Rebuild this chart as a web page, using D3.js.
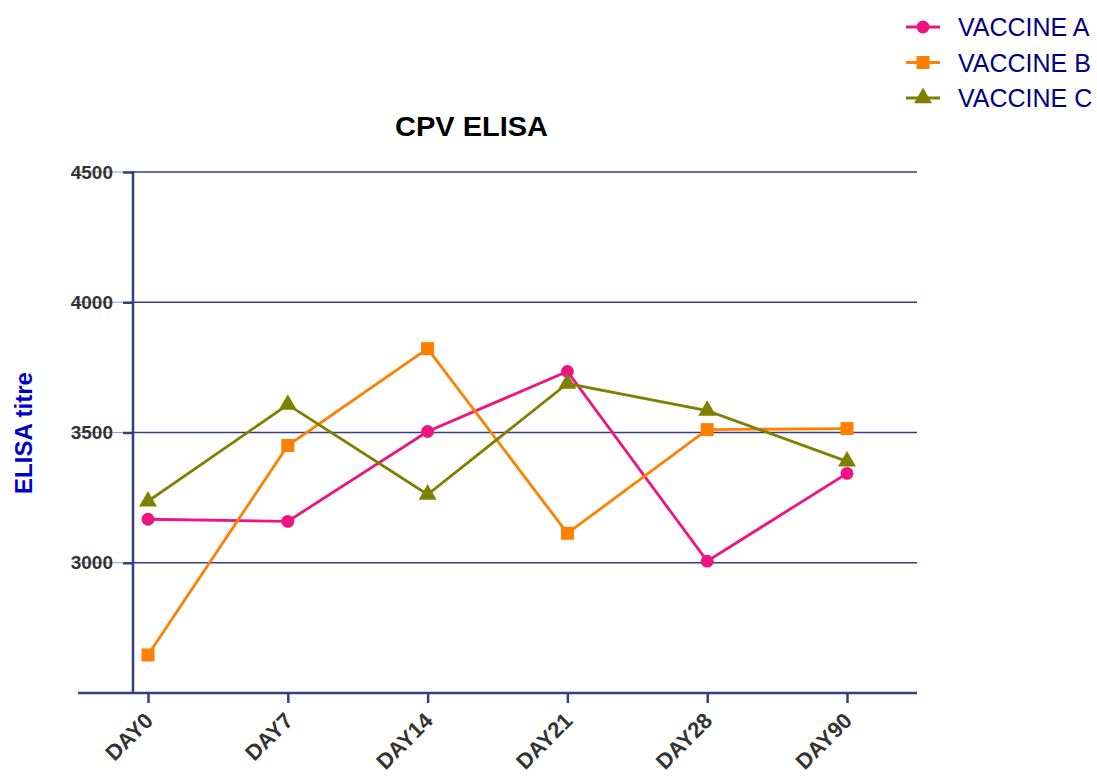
<head>
  <script src="https://d3js.org/d3.v7.min.js"></script>
</head>
<style>
  body { margin: 0; background: #fff; }
  svg text { font-family: "Liberation Sans", Arial, sans-serif; }
</style>
<body>
  <svg id="chart"></svg>
</body>
<script>
  var w = 1097;
  var h = 778;

  // data
  var days = ["DAY0", "DAY7", "DAY14", "DAY21", "DAY28", "DAY90"];
  var vaccineA = [3167, 3159, 3504, 3734, 3006, 3343];
  var vaccineB = [2646, 3450, 3822, 3113, 3511, 3515];
  var vaccineC = [3236, 3607, 3262, 3688, 3584, 3389];
  var seriesNames = ["VACCINE A", "VACCINE B", "VACCINE C"];
  var yTicks = [3000, 3500, 4000, 4500];

  var colors = ["#EE1380", "#FF8000", "#808000"];
  var shapes = [d3.symbolCircle, d3.symbolSquare, d3.symbolTriangle];
  var shapeSizes = [130, 170, 140];
  var axisColor = "#363C85";

  var series = [vaccineA, vaccineB, vaccineC].map(function(vals, i){
    return { name: seriesNames[i], values: vals.map(function(v, j){ return {day: days[j], v: v}; }) };
  });

  var xScale = d3.scalePoint().domain(days).range([148, 847]);
  var yScale = d3.scaleLinear().domain([2500, 4500]).range([693, 172]);

  var svg = d3.select("#chart").attr("width", w).attr("height", h);

  // gridlines (they run faintly through the tick labels in the original)
  svg.append("g").selectAll("line")
      .data(yTicks)
      .enter().append("line")
      .attr("x1", 72).attr("x2", 133)
      .attr("y1", function(d){ return yScale(d); })
      .attr("y2", function(d){ return yScale(d); })
      .attr("stroke", axisColor).attr("stroke-opacity", 0.5).attr("stroke-width", 1);
  svg.append("g").selectAll("line")
      .data(yTicks)
      .enter().append("line")
      .attr("x1", 133).attr("x2", 917)
      .attr("y1", function(d){ return yScale(d); })
      .attr("y2", function(d){ return yScale(d); })
      .attr("stroke", axisColor).attr("stroke-width", 1.6);

  // y axis
  var yAxis = d3.axisLeft(yScale).tickValues(yTicks).tickSize(10).tickPadding(10).tickFormat(d3.format("d"));
  var gy = svg.append("g").attr("transform", "translate(133,0)").call(yAxis);
  gy.select(".domain").remove();
  gy.append("line").attr("x1", 0).attr("x2", 0).attr("y1", 171).attr("y2", 694)
      .attr("stroke", axisColor).attr("stroke-width", 2.5);
  gy.selectAll(".tick line").attr("stroke", axisColor).attr("stroke-width", 2.5);
  gy.selectAll(".tick text")
      .attr("fill", "#333").style("font-size", "19px").style("font-weight", "bold");

  // x axis
  var xAxis = d3.axisBottom(xScale).tickSize(10);
  var gx = svg.append("g").attr("transform", "translate(0,693)").call(xAxis);
  gx.select(".domain").remove();
  gx.append("line").attr("x1", 78).attr("x2", 917).attr("y1", 0).attr("y2", 0)
      .attr("stroke", axisColor).attr("stroke-width", 2.5);
  gx.selectAll(".tick line").attr("stroke", axisColor).attr("stroke-width", 2.5);
  gx.selectAll(".tick text")
      .attr("fill", "#333").style("font-size", "22px").style("font-weight", "bold")
      .style("text-anchor", "end")
      .attr("x", 0).attr("y", 0).attr("dy", 0)
      .attr("transform", "translate(6,29) rotate(-45)");

  // title and axis label
  svg.append("text").attr("x", 471.5).attr("y", 136)
      .attr("text-anchor", "middle").style("font-size", "27px").style("font-weight", "bold")
      .attr("textLength", 153).attr("lengthAdjust", "spacingAndGlyphs")
      .attr("fill", "#000").text("CPV ELISA");
  svg.append("text").attr("transform", "translate(32,433) rotate(-90)")
      .attr("text-anchor", "middle").style("font-size", "24px").style("font-weight", "bold")
      .attr("fill", "#0000CC").text("ELISA titre");

  // lines
  var line = d3.line().x(function(d){ return xScale(d.day); }).y(function(d){ return yScale(d.v); });
  var gs = svg.append("g").selectAll("g")
      .data(series)
      .enter().append("g");
  gs.append("path")
      .attr("d", function(d){ return line(d.values); })
      .attr("fill", "none")
      .attr("stroke", function(d, i){ return colors[i]; })
      .attr("stroke-width", 2.8);
  gs.each(function(s, i){
    d3.select(this).selectAll("path.pt")
      .data(s.values)
      .enter().append("path")
      .attr("class", "pt")
      .attr("d", d3.symbol().type(shapes[i]).size(shapeSizes[i]))
      .attr("transform", function(d){ return "translate(" + xScale(d.day) + "," + yScale(d.v) + ")"; })
      .attr("fill", colors[i]);
  });

  // legend
  var lg = svg.append("g").selectAll("g")
      .data(seriesNames)
      .enter().append("g")
      .attr("transform", function(d, i){ return "translate(0," + (27 + i * 35.5) + ")"; });
  lg.append("line").attr("x1", 906).attr("x2", 940).attr("y1", 0).attr("y2", 0)
      .attr("stroke", function(d, i){ return colors[i]; }).attr("stroke-width", 2.8);
  lg.append("path")
      .attr("d", function(d, i){ return d3.symbol().type(shapes[i]).size(shapeSizes[i])(); })
      .attr("transform", "translate(923,0)")
      .attr("fill", function(d, i){ return colors[i]; });
  lg.append("text").attr("x", 958).attr("y", 0).attr("dy", "0.36em")
      .style("font-size", "25px").attr("fill", "#000080")
      .text(function(d){ return d; });
</script>
